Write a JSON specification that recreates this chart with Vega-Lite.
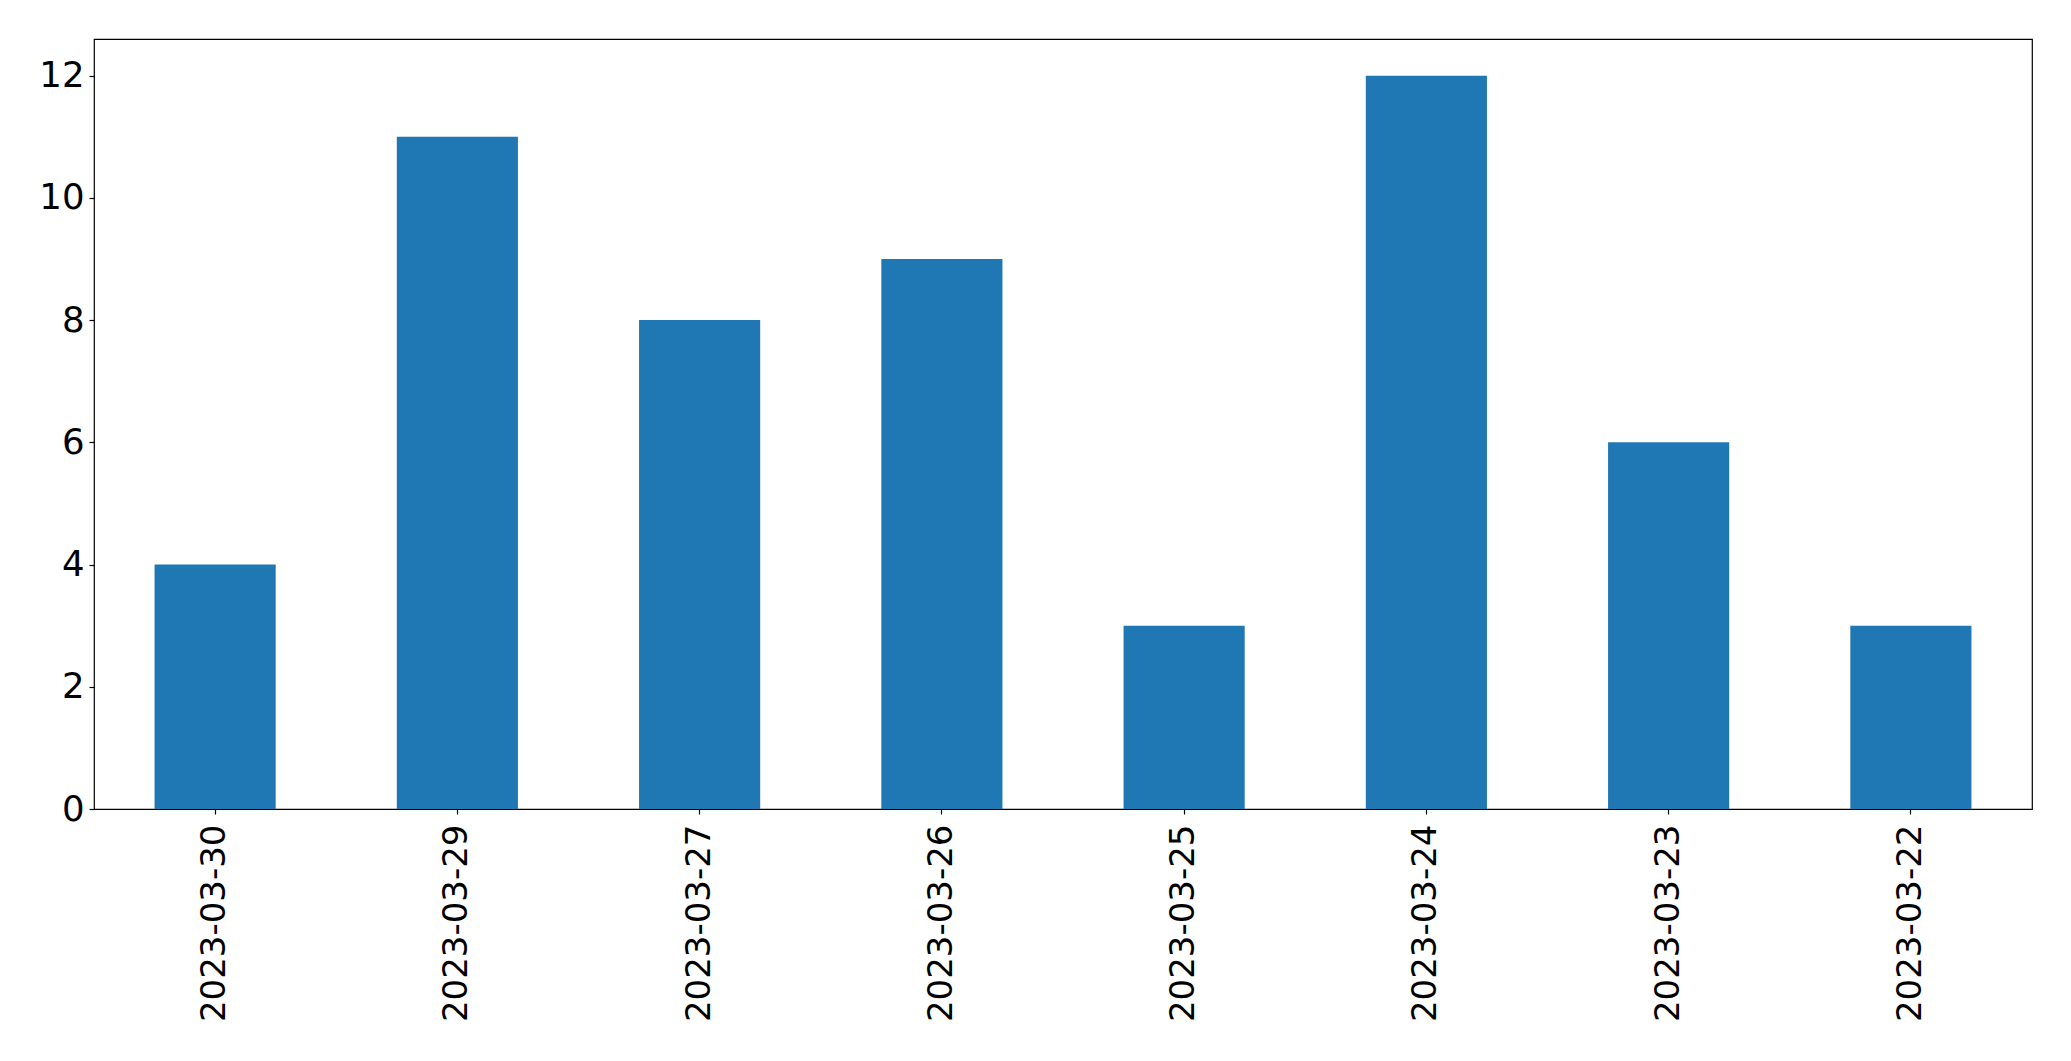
{
  "$schema": "https://vega.github.io/schema/vega-lite/v6.json",
  "autosize": {"type": "none"},
  "width": 1938,
  "height": 770,
  "padding": {"left": 94, "top": 39, "right": 39, "bottom": 252},
  "background": "white",
  "config": {
    "view": {"stroke": "black", "strokeWidth": 1.2},
    "axis": {"labelFont": "DejaVu Sans", "labelColor": "black", "labelLimit": 0, "tickColor": "black", "tickSize": 5, "tickWidth": 1.2, "grid": false, "domain": false, "title": null}
  },
  "data": {
    "values": [
      {"date": "2023-03-30", "count": 4},
      {"date": "2023-03-29", "count": 11},
      {"date": "2023-03-27", "count": 8},
      {"date": "2023-03-26", "count": 9},
      {"date": "2023-03-25", "count": 3},
      {"date": "2023-03-24", "count": 12},
      {"date": "2023-03-23", "count": 6},
      {"date": "2023-03-22", "count": 3}
    ]
  },
  "mark": {"type": "bar", "color": "#1f77b4"},
  "encoding": {
    "x": {
      "field": "date", "type": "nominal", "sort": null,
      "scale": {"paddingInner": 0.5, "paddingOuter": 0.25},
      "axis": {"labelAngle": -90, "labelAlign": "right", "labelBaseline": "middle", "labelPadding": 10, "labelFontSize": 34}
    },
    "y": {
      "field": "count", "type": "quantitative",
      "scale": {"domain": [0, 12.6], "nice": false, "zero": true},
      "axis": {"values": [0, 2, 4, 6, 8, 10, 12], "labelPadding": 5, "labelFontSize": 35.5}
    }
  }
}
